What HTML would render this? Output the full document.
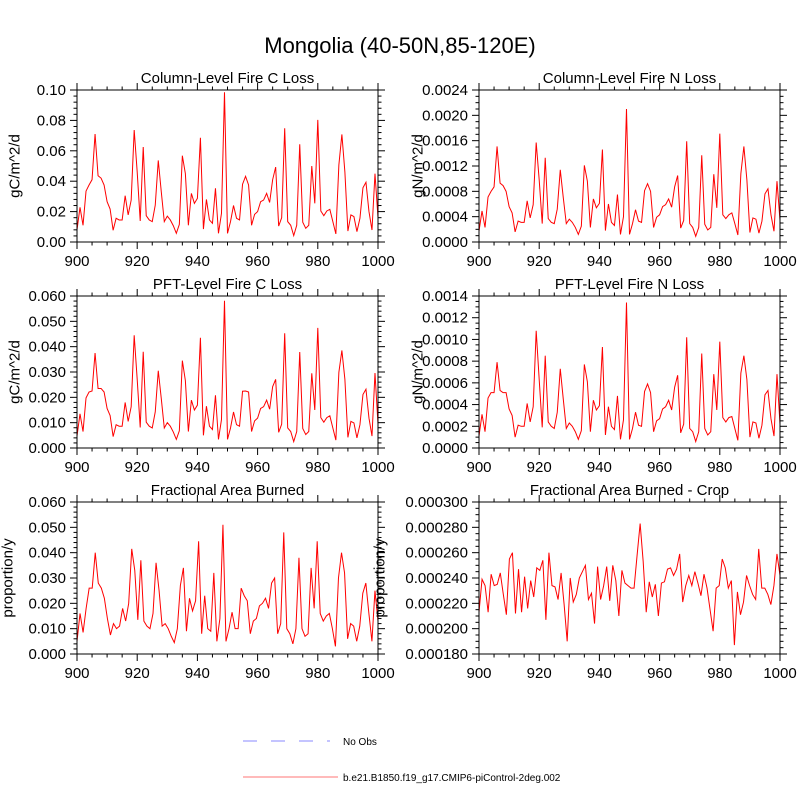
<!DOCTYPE html>
<html><head><meta charset="utf-8"><style>
html,body{margin:0;padding:0;background:#fff;}
svg{display:block;font-family:"Liberation Sans",sans-serif;}
</style></head><body>
<svg id="chart" width="800" height="800" viewBox="0 0 800 800">
<text x="400" y="53" font-size="22" text-anchor="middle">Mongolia (40-50N,85-120E)</text>
<g>
<line x1="243" y1="741" x2="330" y2="741" stroke="#a0a0ff" stroke-width="1.3" stroke-dasharray="14,14"/>
<text x="343" y="745" font-size="10">No Obs</text>
<line x1="243" y1="777" x2="338" y2="777" stroke="#ff9090" stroke-width="1.3"/>
<text x="343" y="781" font-size="10">b.e21.B1850.f19_g17.CMIP6-piControl-2deg.002</text>
</g>
</svg>
<script>
const xTicks=[900,920,940,960,980,1000];
const colCLoss=[7.9,22.8,11,33.5,37.5,41,71,43.6,42,37.5,26.5,21.7,7.7,15.6,14.5,14.5,30.5,17.8,27.6,73.7,46,13.8,62.5,17.3,14.5,13.4,24.3,53.7,33,13.4,17,14.5,10.7,5.7,11.6,56.8,45,11,32,25.4,28.7,68.6,8.5,28,14.5,12.3,35.3,5.7,18.9,98.5,5.7,13.4,24,15.6,14.5,38,43.2,37.5,11,18.2,20,26.5,27.6,32,26,41,49.3,10.5,16,74.8,13.4,11,4.2,11,64.3,13,9,11,50,25.4,80.3,20.4,17.3,20.4,21.5,13.4,5.3,50.7,70.8,46,7.2,17.8,16.7,6.8,15.6,35.7,39.3,20,7.9,45,16];
const colNLoss=[17,49,23,71,80,87,151,93,89,80,56,46,16,33,31,31,65,38,59,157,98,29,133,37,31,29,52,114,70,29,36,31,23,12,25,121,96,23,68,54,61,146,18,60,31,26,75,12,40,210,12,29,51,33,31,81,92,80,23,39,43,56,59,68,55,87,105,22,34,159,29,23,9,23,137,28,19,23,107,54,171,43,37,43,46,29,11,108,151,98,15,38,36,14,33,76,84,43,17,96,34];
const pftCLoss=[4.7,13.5,6.5,19.8,22.1,22.5,37.5,23.5,23.5,22.1,15.6,12.8,4.5,9.2,8.6,8.6,18,10.5,16.3,44.5,27.1,8.1,38,10.2,8.6,7.9,14.3,30.5,19.5,7.9,10,8.6,6.3,3.4,6.8,34.5,26.6,6.5,18.9,15,16.9,43.5,5,16.5,8.6,7.3,20.8,3.4,11.2,58.1,3.4,7.9,14.2,9.2,8.6,22.4,22.5,22.1,6.5,10.7,11.8,15.6,16.3,18.9,15.3,24.2,27.1,6.2,9.4,45.3,7.9,6.5,2.5,6.5,37.9,7.7,5.3,6.5,29.5,15,47.4,12,10.2,12,12.7,7.9,3.1,29.9,38.5,27.1,4.2,10.5,9.9,4,9.2,21.1,23.2,11.8,4.7,29.6,9.4];
const pftNLoss=[11,31,15,46,51,51,79,53,51,51,36,30,10,21,20,20,41,24,38,108,63,19,85,24,20,18,33,73,45,18,23,20,15,8,16,77,61,15,44,35,39,93,12,38,20,17,48,8,26,134,8,18,33,21,20,52,59,51,15,25,27,36,38,44,35,56,67,14,22,102,18,15,6,15,87,18,12,15,68,35,98,28,24,28,29,18,7,69,85,63,10,24,23,9,21,49,53,27,11,68,22];
const areaBurned=[5,16,8.5,18,26,26,40,28,26,22,14,7.5,12,10,11,18,13,20,41.5,33,13.5,37,13,11,10,16,36,25,11,12,10,7,4.5,10,27,34,9,22,17,21,44.5,8,23,10,9,32,5,14,51,5,10,16.5,10,10,26,23,21,8,13,14,19,20,22,18,28,30,8,12,48,10,8,4,10,38,10,7,8,34,18,44.5,16,13,15,16,10,3,30,40,32,6,12,11,5,11,24,28,16,5,25,13];
const cropArea=[213,239,234,213,243,234,235,244,227,211,255,260,212,247,213,241,216,238,225,248,246,254,207,260,234,233,223,244,219,190,240,221,227,240,245,250,223,228,204,249,223,234,249,222,250,238,210,246,236,234,232,232,258,283,253,213,237,225,235,210,236,237,247,248,242,247,259,221,234,242,234,245,236,226,243,232,215,198,232,234,255,248,232,238,187,229,211,221,242,234,227,223,263,232,232,227,219,234,259,242];
const yTicks1=[0,0.02,0.04,0.06,0.08,0.10];
const yTicks2=[0,0.0004,0.0008,0.0012,0.0016,0.0020,0.0024];
const yTicks3=[0,0.01,0.02,0.03,0.04,0.05,0.06];
const yTicks4=[0,0.0002,0.0004,0.0006,0.0008,0.0010,0.0012,0.0014];
const yTicks6=[0.00018,0.0002,0.00022,0.00024,0.00026,0.00028,0.0003];

const NS='http://www.w3.org/2000/svg';
const svg=document.getElementById('chart');
function mk(tag,attrs,parent){const e=document.createElementNS(NS,tag);for(const k in attrs)e.setAttribute(k,attrs[k]);(parent||svg).appendChild(e);return e;}

const panels=[
 {name:'column-c-loss',title:'Column-Level Fire C Loss',ylab:'gC/m^2/d',x:77,y:90,data:colCLoss,scale:0.001,ticks:yTicks1,dec:2,minorN:4,ylx:15},
 {name:'column-n-loss',title:'Column-Level Fire N Loss',ylab:'gN/m^2/d',x:479,y:90,data:colNLoss,scale:0.00001,ticks:yTicks2,dec:4,minorN:3,ylx:418},
 {name:'pft-c-loss',title:'PFT-Level Fire C Loss',ylab:'gC/m^2/d',x:77,y:296,data:pftCLoss,scale:0.001,ticks:yTicks3,dec:3,minorN:4,ylx:15},
 {name:'pft-n-loss',title:'PFT-Level Fire N Loss',ylab:'gN/m^2/d',x:479,y:296,data:pftNLoss,scale:0.00001,ticks:yTicks4,dec:4,minorN:3,ylx:418},
 {name:'area-burned',title:'Fractional Area Burned',ylab:'proportion/y',x:77,y:502,data:areaBurned,scale:0.001,ticks:yTicks3,dec:3,minorN:4,ylx:8},
 {name:'crop-area-burned',title:'Fractional Area Burned - Crop',ylab:'proportion/y',x:479,y:502,data:cropArea,scale:0.000001,ticks:yTicks6,dec:6,minorN:3,ylx:380}
];
const W=301,H=152;
panels.forEach(p=>{
 const g=mk('g',{});
 
 
 const y0=p.ticks[0],y1=p.ticks[p.ticks.length-1];
 const sx=v=>p.x+(v-900)/100*W;
 const sy=v=>p.y+H-(v-y0)/(y1-y0)*H;
 const t=mk('text',{x:p.x+W/2,y:p.y-7,'font-size':15,'text-anchor':'middle'},g);
 t.textContent=p.title;
 
 
 const yl=mk('text',{x:0,y:0,'font-size':15,'text-anchor':'middle','dominant-baseline':'central',transform:`translate(${p.ylx},${p.y+H/2}) rotate(-90)`},g);
 yl.textContent=p.ylab;
 
 
 xTicks.forEach((v,i)=>{
  const X=sx(v);
  mk('line',{x1:X,y1:p.y+H,x2:X,y2:p.y+H+7,stroke:'#000','stroke-width':1},g);
  mk('line',{x1:X,y1:p.y,x2:X,y2:p.y-7,stroke:'#000','stroke-width':1},g);
  const tl=mk('text',{x:X,y:p.y+H+24,'font-size':15,'text-anchor':'middle'},g);
  tl.textContent=v;
  
  
 });
 for(let v=905;v<1000;v+=5){if(v%20===0)continue;const X=sx(v);
  mk('line',{x1:X,y1:p.y+H,x2:X,y2:p.y+H+3.5,stroke:'#000','stroke-width':1},g);
  mk('line',{x1:X,y1:p.y,x2:X,y2:p.y-3.5,stroke:'#000','stroke-width':1},g);}
 p.ticks.forEach((v,i)=>{
  const Y=sy(v);
  mk('line',{x1:p.x,y1:Y,x2:p.x-7,y2:Y,stroke:'#000','stroke-width':1},g);
  mk('line',{x1:p.x+W,y1:Y,x2:p.x+W+7,y2:Y,stroke:'#000','stroke-width':1},g);
  const tl=mk('text',{x:p.x-11,y:Y+5,'font-size':15,'text-anchor':'end'},g);
  tl.textContent=v.toFixed(p.dec);
  
  
  if(i<p.ticks.length-1){const st=(p.ticks[i+1]-v)/(p.minorN+1);
   for(let k=1;k<=p.minorN;k++){const YY=sy(v+st*k);
    mk('line',{x1:p.x,y1:YY,x2:p.x-3.5,y2:YY,stroke:'#000','stroke-width':1},g);
    mk('line',{x1:p.x+W,y1:YY,x2:p.x+W+3.5,y2:YY,stroke:'#000','stroke-width':1},g);}}
 });
 const n=p.data.length;
 const pts=p.data.map((v,i)=>sx(900+i*100/(n-1)).toFixed(2)+','+sy(v*p.scale).toFixed(2)).join(' ');
 const pl=mk('polyline',{points:pts,fill:'none',stroke:'#ff0000','stroke-width':1},g);
 
 
 const fr=mk('rect',{x:p.x,y:p.y,width:W,height:H,fill:'none',stroke:'#000','stroke-width':1},g);
 
 
});
</script>
</body></html>
